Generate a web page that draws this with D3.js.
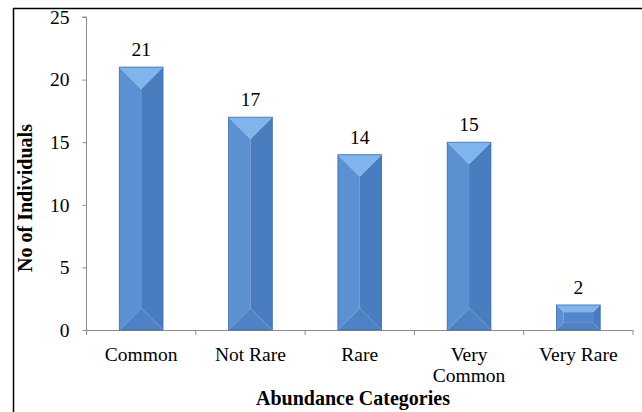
<!DOCTYPE html>
<html>
<head>
<meta charset="utf-8">
<script src="https://cdn.jsdelivr.net/npm/d3@7"></script>
<style>
  html, body { margin: 0; padding: 0; background: #fff; }
  svg { display: block; }
  text { font-family: "Liberation Serif", "Times New Roman", serif; fill: #000; }
</style>
</head>
<body>
<script>
const categories = [["Common"], ["Not Rare"], ["Rare"], ["Very", "Common"], ["Very Rare"]];
const values = [21, 17, 14, 15, 2];
const yTicks = [0, 5, 10, 15, 20, 25];
const xTitle = "Abundance Categories";
const yTitle = "No of Individuals";

const W = 642, H = 412;
const FS = "19.5px";
const svg = d3.select("body").append("svg").attr("width", W).attr("height", H);

// outer frame (top and left edges visible)
svg.append("line").attr("x1", 13).attr("y1", 8.5).attr("x2", W).attr("y2", 8.5).attr("stroke", "#000").attr("stroke-width", 1.5);
svg.append("line").attr("x1", 13.5).attr("y1", 8).attr("x2", 13.5).attr("y2", H).attr("stroke", "#000").attr("stroke-width", 1.5);

const pLeft = 86.5, pRight = 633, pTop = 17, pBottom = 330;
const keys = categories.map((c, i) => i);
const x = d3.scaleBand().domain(keys).range([pLeft, pRight]).paddingInner(0.6).paddingOuter(0.3);
const xb = d3.scaleBand().domain(keys).range([pLeft, pRight]).padding(0);
const y = d3.scaleLinear().domain([0, 25]).range([pBottom, pTop]);

// y axis
const yAxis = d3.axisLeft(y).tickValues(yTicks).tickSize(4).tickPadding(13);
const gy = svg.append("g").attr("transform", `translate(${pLeft},0)`).call(yAxis);
gy.attr("font-family", null).attr("font-size", null);
gy.select(".domain").attr("stroke", "#8c8c8c").attr("d", `M-4,${pTop}H0V${pBottom}`);
gy.selectAll(".tick line").attr("stroke", "#8c8c8c");
gy.selectAll(".tick text").style("font-size", FS).attr("fill", "#000");

// x axis line + ticks at band edges
svg.append("line").attr("x1", pLeft).attr("x2", pRight).attr("y1", pBottom + 0.5).attr("y2", pBottom + 0.5).attr("stroke", "#8c8c8c");
const edges = keys.map(k => xb(k)).concat([pRight]);
svg.selectAll(".xt").data(edges).enter().append("line")
  .attr("x1", d => d).attr("x2", d => d).attr("y1", pBottom).attr("y2", pBottom + 5).attr("stroke", "#8c8c8c");

// bars with bevel
const cTop = "#80b4ec", cLeft = "#5b90d2", cRight = "#4a7cc0", cBottom = "#4f82c5", cMid = "#5486c9";
const gb = svg.append("g");
keys.forEach(k => {
  const x0 = x(k), x1 = x(k) + x.bandwidth(), y0 = y(values[k]), y1 = y(0);
  const w = x1 - x0, h = y1 - y0;
  const d = Math.min(w / 2, h / 3.5);
  const g = gb.append("g");
  const poly = (pts, c) => g.append("polygon").attr("points", pts.map(p => p.join(",")).join(" ")).attr("fill", c);
  poly([[x0, y0], [x0 + d, y0 + d], [x0 + d, y1 - d], [x0, y1]], cLeft);
  poly([[x1, y0], [x1 - d, y0 + d], [x1 - d, y1 - d], [x1, y1]], cRight);
  if (w / 2 - d > 0.5) poly([[x0 + d, y0 + d], [x1 - d, y0 + d], [x1 - d, y1 - d], [x0 + d, y1 - d]], cMid);
  poly([[x0, y1], [x1, y1], [x1 - d, y1 - d], [x0 + d, y1 - d]], cBottom);
  poly([[x0, y0], [x1, y0], [x1 - d, y0 + d], [x0 + d, y0 + d]], cTop);
  g.append("rect").attr("x", x0).attr("y", y0).attr("width", w).attr("height", h)
    .attr("fill", "none").attr("stroke", "#3d6aa6").attr("stroke-width", 0.8);
  // value label
  svg.append("text").attr("x", x0 + w / 2).attr("y", y0 - 11).attr("text-anchor", "middle")
    .style("font-size", FS).text(values[k]);
});

// category labels
keys.forEach(k => {
  const cx = x(k) + x.bandwidth() / 2;
  const t = svg.append("text").attr("x", cx).attr("y", 361).attr("text-anchor", "middle").style("font-size", FS);
  categories[k].forEach((line, i) => {
    t.append("tspan").attr("x", cx).attr("dy", i === 0 ? 0 : 21).text(line);
  });
});

// axis titles
svg.append("text").attr("x", 353).attr("y", 405).attr("text-anchor", "middle")
  .style("font-size", "20px").style("font-weight", "bold").text(xTitle);
svg.append("text").attr("transform", `translate(32,198) rotate(-90)`).attr("text-anchor", "middle")
  .style("font-size", "20px").style("font-weight", "bold").text(yTitle);
</script>
</body>
</html>
